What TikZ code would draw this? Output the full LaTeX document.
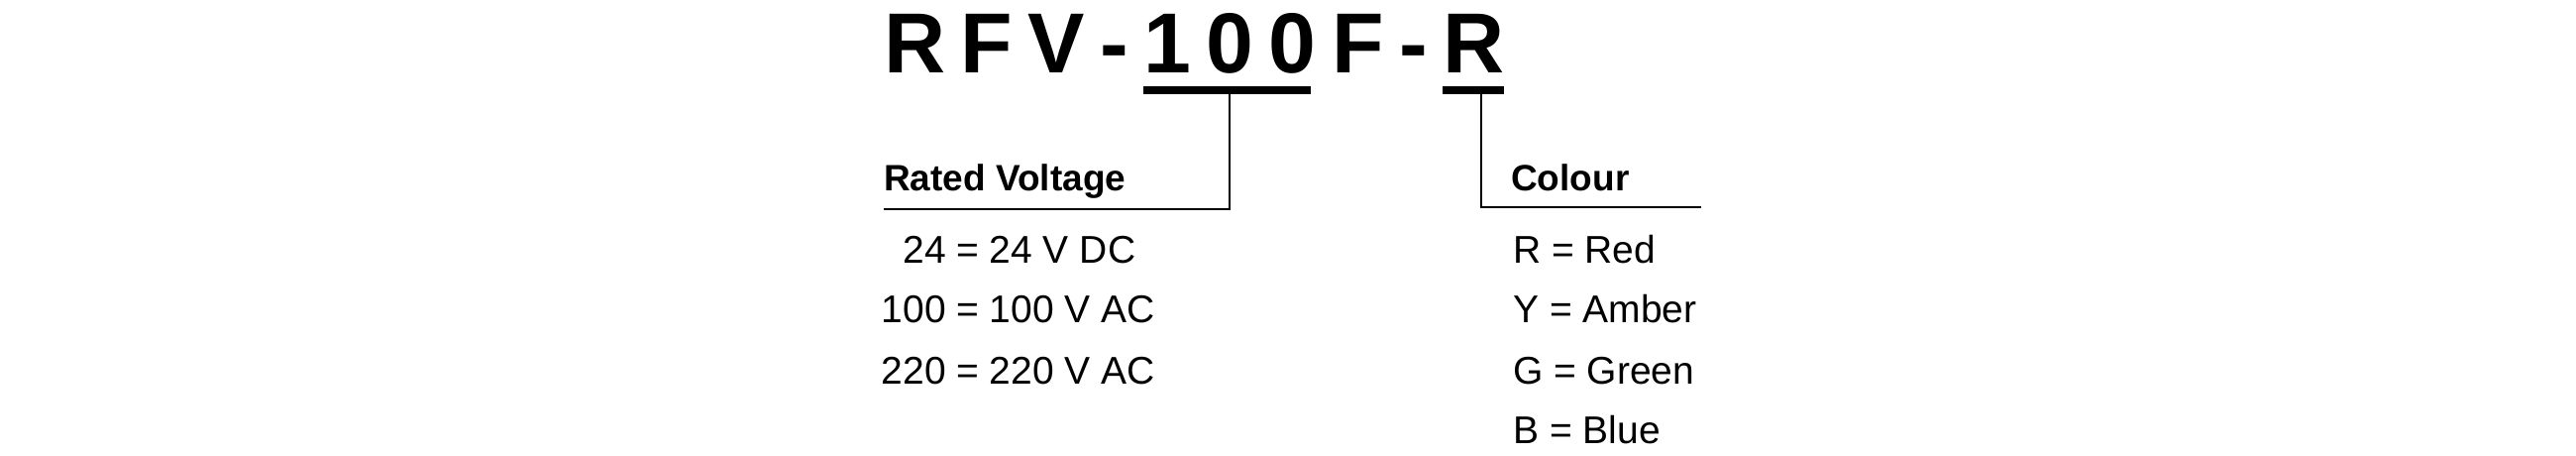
\documentclass[tikz,border=0pt]{standalone}
\usepackage{fontspec}
\setmainfont{Liberation Sans}
\usetikzlibrary{positioning}

\tikzset{
    code/.style={inner sep=0pt, anchor=base west, font=\fontsize{86}{90}\selectfont\bfseries},
    head/.style={inner sep=0pt, anchor=base west, font=\fontsize{37}{40}\selectfont\bfseries},
    entry/.style={inner sep=0pt, anchor=base west, font=\fontsize{39}{44}\selectfont},
}

\begin{document}
\begin{tikzpicture}[x=1pt,y=1pt,yscale=-1]
\useasboundingbox (0,0) rectangle (2600,460);

%Title, one letter per node
\node[code] (t1) at (892,74) {R};
\foreach \ch [count=\i from 2] in {F,V,-,1,0,0,F,-,R} {
    \pgfmathtruncatemacro{\prev}{\i-1}
    \node[code, xshift=15pt] (t\i) at (t\prev.base east) {\ch};
}

%Bars under the code parts
\fill (t5.west |- 0,87) rectangle ([xshift=-6pt]t7.east |- 0,95);
\fill (t10.west |- 0,87) rectangle (t10.east |- 0,95);
\coordinate (vtop) at (1241,95);
\coordinate (ctop) at (1495,95);

%Headings
\node[head] (rated) at (892,192) {Rated Voltage};
\node[head] (colour) at (1525,192) {Colour};
\coordinate (vend) at (892,211);
\coordinate (cend) at (1717,209);

\draw[line width=2pt] (vtop) -- (vtop |- vend) -- (vend);
\draw[line width=2pt] (ctop) -- (ctop |- cend) -- (cend);

%Voltage codes
\node[entry, anchor=base east] (v1) at (955,265) {24};
\node[entry, anchor=base east] (v2) at (955,325) {100};
\node[entry, anchor=base east] (v3) at (955,387) {220};
\node[entry] (v1t) at (965,265) {= 24 V DC};
\node[entry] (v2t) at (965,325) {= 100 V AC};
\node[entry] (v3t) at (965,387) {= 220 V AC};

%Colour codes
\node[entry] (c1) at (1527,265) {R = Red};
\node[entry] (c2) at (1527,325) {Y = Amber};
\node[entry] (c3) at (1527,387) {G = Green};
\node[entry] (c4) at (1527,447) {B = Blue};
\end{tikzpicture}
\end{document}
